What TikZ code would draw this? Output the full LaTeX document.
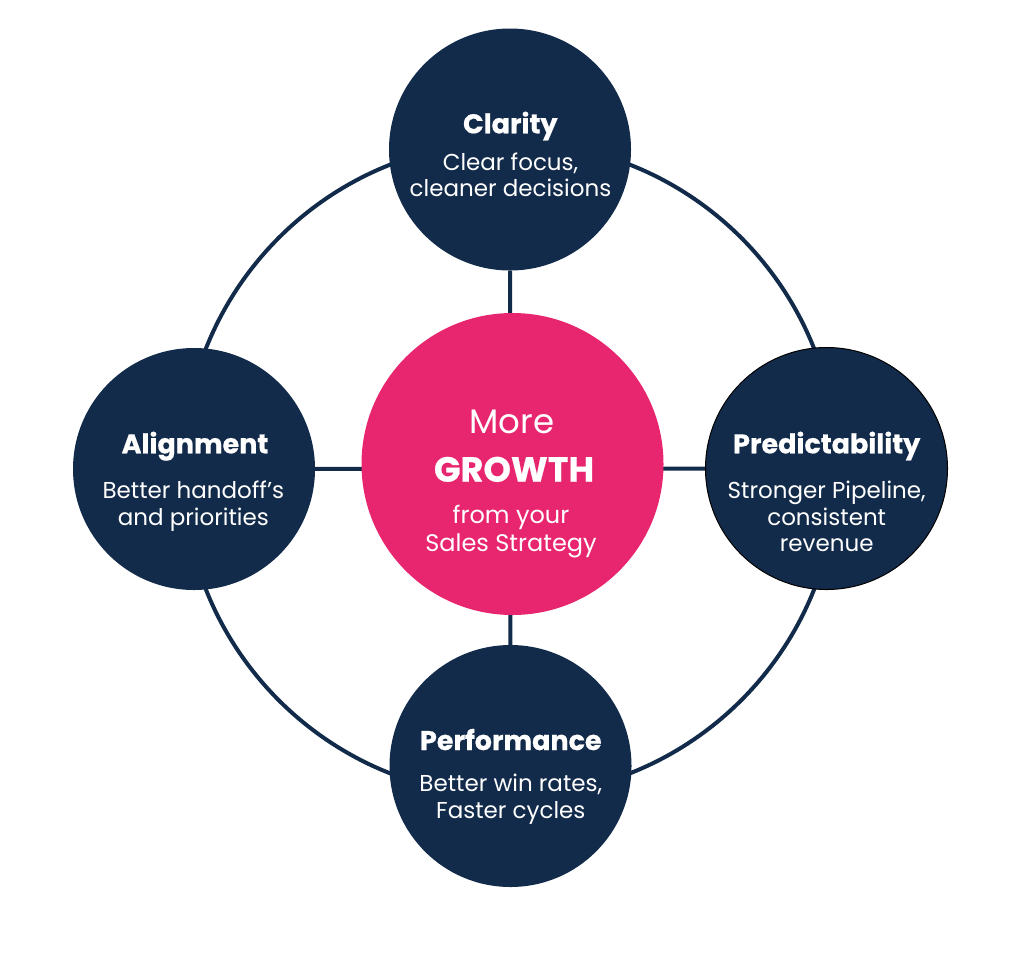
\documentclass[tikz,border=0pt]{standalone}
\usepackage{fontspec}
\setmainfont{Poppins}
\newfontfamily\heavyfont{Poppins}[BoldFeatures={FakeBold=0.6}]
\usetikzlibrary{backgrounds}
\definecolor{navy}{HTML}{132B4A}
\definecolor{rose}{HTML}{E8266F}
\tikzset{
  pillar/.style={circle, fill=navy, minimum size=242pt, inner sep=0pt},
  hub/.style={circle, fill=rose, minimum size=302pt, inner sep=0pt},
  title/.style={anchor=base, text=white, inner sep=0pt, font=\heavyfont\bfseries\fontsize{27}{27}\selectfont},
  blurb/.style={anchor=base, text=white, inner sep=0pt, align=center, font=\fontsize{23}{26.5}\selectfont},
  link/.style={draw=navy, line width=4pt},
}
\begin{document}
\begin{tikzpicture}[x=1pt,y=-1pt]
            \useasboundingbox (0,0) rectangle (1024,962);

            \node[hub] (growth) at (512.5,464) {};
            \node[pillar] (clarity) at (510,149.5) {};
            \node[pillar] (alignment) at (194,469) {};
            \node[pillar, draw=black, line width=1pt] (predictability) at (826.5,468.5) {};
            \node[pillar] (performance) at (510.5,766) {};

            % ring and spokes behind the circles
            \begin{pgfonlayer}{background}
              \draw[link] (510,469) circle[radius=327pt];
              \draw[link] (clarity) -- (performance);
              \draw[link] (alignment) -- (predictability);
            \end{pgfonlayer}

            % texts, placed by the baseline of their last line
            \node[title] (clarityT) at (510.3,133.3) {Clarity};
            \node[blurb] (clarityB) at (510.5,196.7) {Clear focus,\\cleaner decisions};

            \node[title] (alignmentT) at (195,453.3) {Alignment};
            \node[blurb] (alignmentB) at (193.3,525) {Better handoff’s\\and priorities};

            \node[title] (predictabilityT) at (826.7,453.3) {Predictability};
            \node[blurb] (predictabilityB) at (826.7,551.7) {Stronger Pipeline,\\consistent\\revenue};

            \node[title] (performanceT) at (510.8,750) {Performance};
            \node[blurb] (performanceB) at (510.8,818.3) {Better win rates,\\Faster cycles};

            \node[anchor=base, text=white, font=\fontsize{34}{34}\selectfont] (more) at (511.7,433.3) {More};
            \node[anchor=base, text=white, font=\heavyfont\bfseries\fontsize{35}{35}\selectfont] (big) at (514,481.7) {GROWTH};
            \node[blurb, font=\fontsize{24}{28.7}\selectfont] (fromyour) at (511,551.7) {from your\\Sales Strategy};

        \end{tikzpicture}
\end{document}
